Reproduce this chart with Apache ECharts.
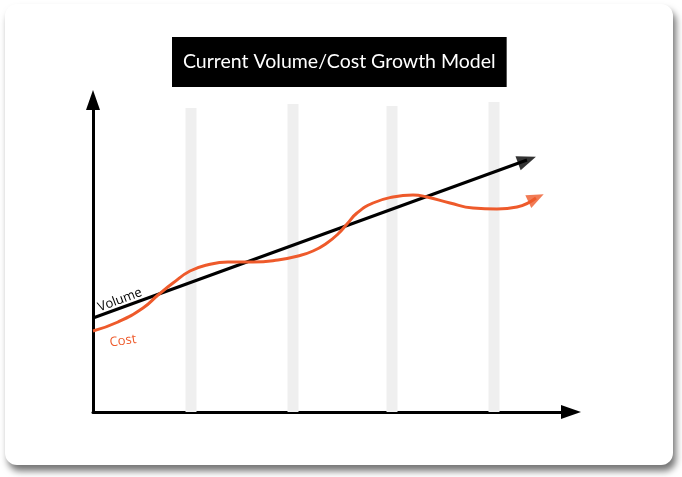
<!DOCTYPE html>
<html>
<head>
<meta charset="utf-8">
<script src="https://cdn.jsdelivr.net/npm/echarts@6/dist/echarts.min.js"></script>
<style>
  html, body { margin: 0; padding: 0; background: #ffffff; }
  #card { position: absolute; left: 5px; top: 4px; width: 668px; height: 461px; background: #fff;
          border-radius: 12px; box-shadow: 3px 6px 7px rgba(0,0,0,0.55); }
  #chart { position: absolute; left: 0; top: 0; width: 682px; height: 477px; }
</style>
</head>
<body>
<div id="card"></div>
<div id="chart"></div>
<script>
// Conceptual chart: x = time (0..478), y = amount (0..312), no units
const titleText = 'Current Volume/Cost Growth Model';
const volumeLabel = 'Volume';
const costLabel = 'Cost';

// background vertical period bands [x, height]
const bandX = [98, 200, 299, 401];
const bandHeight = [304, 308, 306, 310];

// Volume: straight growth line
const volumeX = [0, 434];
const volumeY = [94, 252];

// Cost: wavy curve
const costX = [0, 25, 50, 65, 80, 97, 114, 135, 160, 185, 205, 220, 234, 245, 254, 264, 280, 300, 320, 334, 357, 380, 404, 424, 443];
const costY = [81, 90, 104, 117, 129, 141, 147, 150, 150, 152, 156, 161, 169, 178, 188, 199, 209, 215, 217, 215, 209, 204, 203, 205, 214];

const xMax = 478, yMax = 312;

function pairs(xs, ys) { return xs.map((x, i) => [x, ys[i]]); }
function endAngle(xs, ys) {
  const n = xs.length;
  const a = Math.atan2(ys[n - 1] - ys[n - 2], xs[n - 1] - xs[n - 2]) * 180 / Math.PI;
  return a - 90;
}

const chart = echarts.init(document.getElementById('chart'), null, { renderer: 'canvas' });
const black = '#000000';
const orange = '#EE5A2B';

chart.setOption({
  animation: false,
  backgroundColor: 'transparent',
  title: {
    text: titleText,
    left: 172,
    top: 37,
    backgroundColor: '#000',
    padding: [14, 11],
    textStyle: { color: '#fff', fontSize: 19.5, fontWeight: 'normal', fontFamily: 'Lato', lineHeight: 22 }
  },
  grid: { left: 93, right: 111, top: 100, bottom: 65 },
  xAxis: {
    type: 'value', min: 0, max: xMax,
    axisLine: { show: true, lineStyle: { color: black, width: 3 }, symbol: ['none', 'triangle'], symbolSize: [14, 20] },
    axisTick: { show: false }, axisLabel: { show: false }, splitLine: { show: false }
  },
  yAxis: {
    type: 'value', min: 0, max: yMax,
    axisLine: { show: true, onZero: false, lineStyle: { color: black, width: 3 }, symbol: ['none', 'triangle'], symbolSize: [14, 20] },
    axisTick: { show: false }, axisLabel: { show: false }, splitLine: { show: false }
  },
  graphic: [
    { type: 'text', x: 120, y: 300, rotation: 0.36, z: 100,
      style: { text: volumeLabel, fill: black, font: '13px "Open Sans"', align: 'center', verticalAlign: 'middle' } },
    { type: 'text', x: 123, y: 341, rotation: 0.14, z: 100,
      style: { text: costLabel, fill: orange, font: '13px "Open Sans"', align: 'center', verticalAlign: 'middle' } }
  ],
  series: [
    {
      type: 'bar', data: pairs(bandX, bandHeight), barWidth: 11, silent: true, z: 1,
      itemStyle: { color: '#efefef' }
    },
    {
      type: 'line', data: pairs(volumeX, volumeY), symbol: 'none', z: 3,
      lineStyle: { color: black, width: 3 }
    },
    {
      type: 'scatter', data: [[volumeX[volumeX.length - 1], volumeY[volumeY.length - 1]]], z: 4,
      symbol: 'triangle', symbolSize: [15, 19], symbolRotate: endAngle(volumeX, volumeY),
      itemStyle: { color: black }
    },
    {
      type: 'line', data: pairs(costX, costY), symbol: 'none', smooth: 0.5, z: 3,
      lineStyle: { color: orange, width: 3 }
    },
    {
      type: 'scatter', data: [[costX[costX.length - 1], costY[costY.length - 1]]], z: 4,
      symbol: 'triangle', symbolSize: [14, 17], symbolRotate: endAngle(costX, costY),
      itemStyle: { color: orange }
    }
  ]
});
</script>
</body>
</html>
